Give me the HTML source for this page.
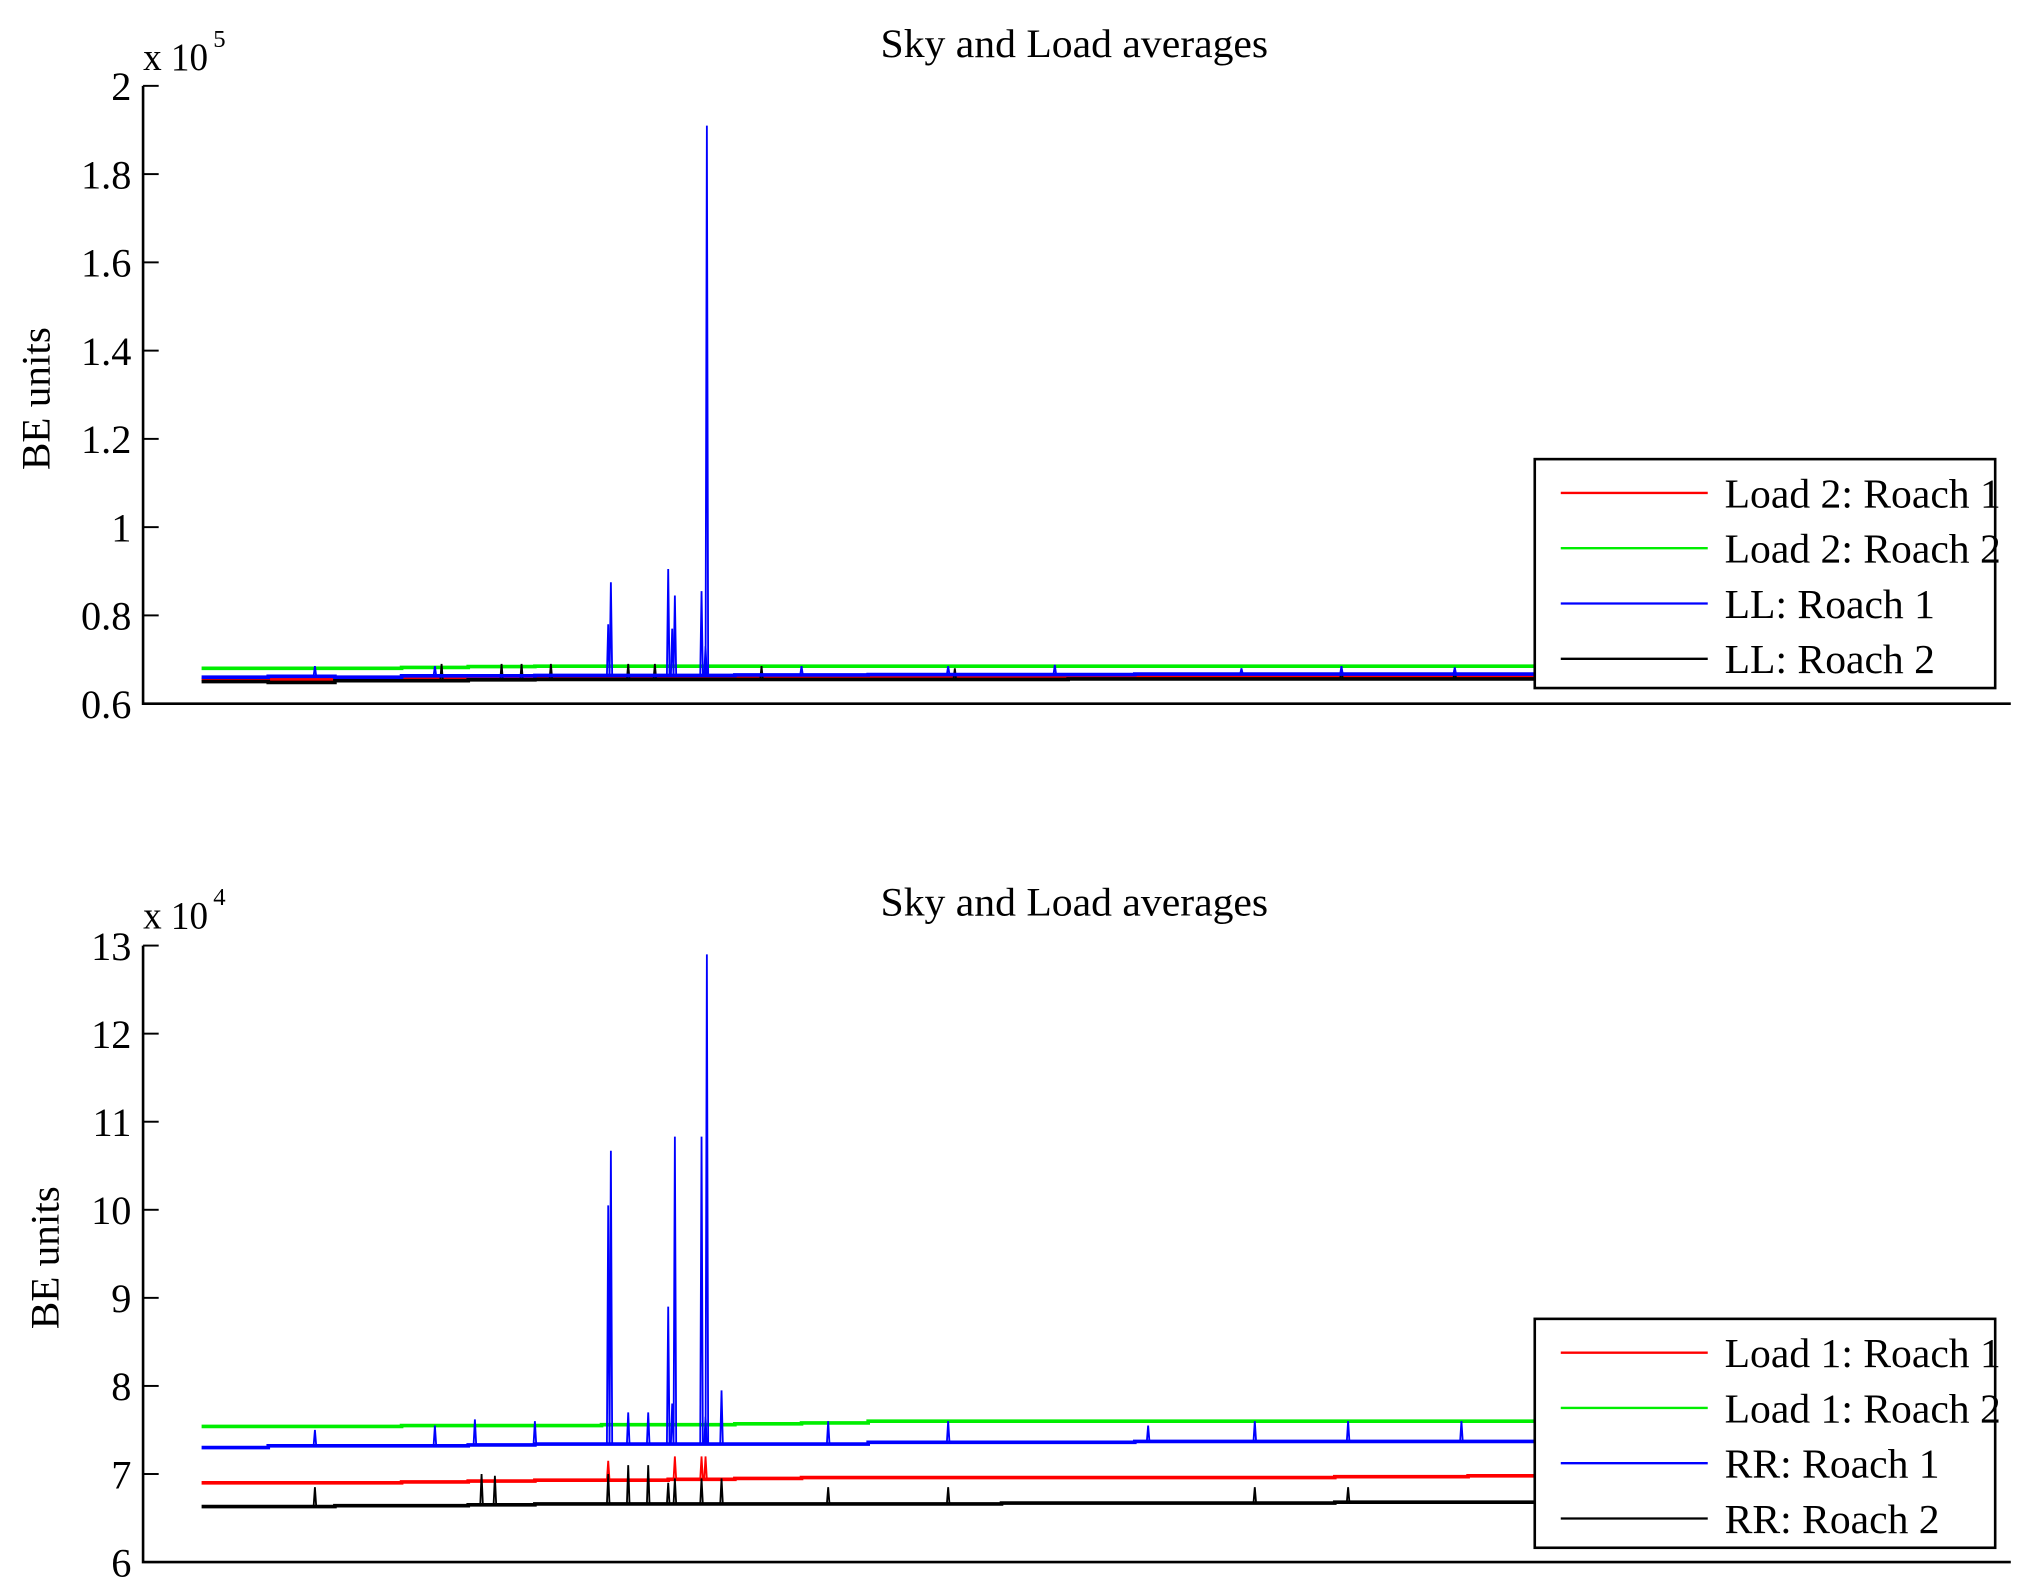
<!DOCTYPE html>
<html><head><meta charset="utf-8"><style>
html,body{margin:0;padding:0;background:#fff;}
svg{display:block;font-family:"Liberation Serif",serif;}
</style></head><body>
<svg id="fig" width="2029" height="1592" viewBox="0 0 1560 1224" xmlns="http://www.w3.org/2000/svg">
<rect width="1560" height="1224" fill="#fff"/>
<g id="p1"></g>
<g id="p2"></g>
</svg>
<script>
// ---- Top panel data (x10^5) ----
const topTicks = [0.6,0.8,1,1.2,1.4,1.6,1.8,2];
const topTickLabels = ["0.6","0.8","1","1.2","1.4","1.6","1.8","2"];
const topLabels = ["Load 2: Roach 1","Load 2: Roach 2","LL: Roach 1","LL: Roach 2"];
const topRed   = [0.655,0.655,0.656,0.657,0.658,0.659,0.66,0.66,0.66,0.66,0.66,0.66,0.66,0.66,0.66,0.661,0.661,0.661,0.661,0.661,0.661];
const topGreen = [0.68,0.68,0.68,0.682,0.684,0.685,0.685,0.685,0.685,0.685,0.685,0.685,0.685,0.685,0.685,0.685,0.685,0.685,0.685,0.685,0.685];
const topBlue  = [0.66,0.662,0.66,0.663,0.663,0.664,0.664,0.664,0.665,0.665,0.666,0.666,0.666,0.666,0.667,0.667,0.667,0.667,0.667,0.667,0.667];
const topBlack = [0.65,0.648,0.652,0.652,0.654,0.655,0.655,0.655,0.655,0.655,0.655,0.655,0.655,0.656,0.656,0.656,0.656,0.656,0.656,0.656,0.656];
const topBlueSpikePos = [305,307,350,353,355,375,378,379,85,175,450,560,640,780,855,940];
const topBlueSpikeVal = [0.78,0.875,0.905,0.77,0.845,0.855,0.73,1.91,0.685,0.685,0.685,0.685,0.688,0.68,0.685,0.682];
const topBlackSpikePos = [180,225,240,262,320,340,420,565,855,940];
const topBlackSpikeVal = [0.69,0.69,0.69,0.69,0.69,0.69,0.685,0.68,0.68,0.678];

// ---- Bottom panel data (x10^4) ----
const botTicks = [6,7,8,9,10,11,12,13];
const botTickLabels = ["6","7","8","9","10","11","12","13"];
const botLabels = ["Load 1: Roach 1","Load 1: Roach 2","RR: Roach 1","RR: Roach 2"];
const botRed   = [6.9,6.9,6.9,6.91,6.92,6.93,6.93,6.94,6.95,6.96,6.96,6.96,6.96,6.96,6.96,6.96,6.96,6.97,6.97,6.98,6.98];
const botGreen = [7.54,7.54,7.54,7.55,7.55,7.55,7.56,7.56,7.57,7.58,7.6,7.6,7.6,7.6,7.6,7.6,7.6,7.6,7.6,7.6,7.6];
const botBlue  = [7.3,7.32,7.32,7.32,7.33,7.34,7.34,7.34,7.34,7.34,7.36,7.36,7.36,7.36,7.37,7.37,7.37,7.37,7.37,7.37,7.37];
const botBlack = [6.63,6.63,6.64,6.64,6.65,6.66,6.66,6.66,6.66,6.66,6.66,6.66,6.67,6.67,6.67,6.67,6.67,6.68,6.68,6.68,6.68];
const botBlueSpikePos = [305,307,320,335,350,353,355,375,378,379,390,85,175,205,250,470,560,710,790,860,945];
const botBlueSpikeVal = [10.05,10.67,7.7,7.7,8.9,7.8,10.83,10.83,7.65,12.9,7.95,7.5,7.55,7.62,7.6,7.6,7.6,7.55,7.6,7.6,7.6];
const botBlackSpikePos = [305,320,335,350,355,375,390,210,220,85,470,560,790,860];
const botBlackSpikeVal = [7.0,7.1,7.1,6.9,6.95,6.95,6.95,7.0,6.98,6.85,6.85,6.85,6.85,6.85];
const botRedSpikePos = [305,355,375,378];
const botRedSpikeVal = [7.15,7.2,7.2,7.2];

const NS="http://www.w3.org/2000/svg";
function mk(tag,attrs,parent){const e=document.createElementNS(NS,tag);for(const k in attrs)e.setAttribute(k,attrs[k]);parent.appendChild(e);return e;}
const X0=110,X1=1546;
function xs(t){return 155+t*1.025;}

function panel(g,cfg){
  const ys=v=>cfg.yb-(v-cfg.vmin)/(cfg.vmax-cfg.vmin)*(cfg.yb-cfg.yt);
  const t=mk('text',{x:826,y:cfg.titleY,'text-anchor':'middle','font-size':31,textLength:298,lengthAdjust:'spacingAndGlyphs'},g);t.textContent='Sky and Load averages';
  
  
  const ex=mk('text',{x:110,y:cfg.titleY+10,'font-size':30,textLength:50,lengthAdjust:'spacingAndGlyphs'},g);ex.textContent='x 10';
  
  
  const sp=mk('text',{x:164,y:cfg.titleY-8,'font-size':19},g);sp.textContent=cfg.exp;
  
  
  const yl=mk('text',{x:0,y:0,'text-anchor':'middle','font-size':31,textLength:110,lengthAdjust:'spacingAndGlyphs',transform:`translate(${cfg.ylx},${(cfg.yt+cfg.yb)/2+3}) rotate(-90)`},g);yl.textContent='BE units';
  
  
  const cols=['#ff0000','#00ee00','#0000ff','#000000'];
  const order=[1,0,3,2];
  order.forEach(si=>{
    const arr=cfg.series[si];
    let d='';
    arr.forEach((v,i)=>{const x0=xs(i*50),x1=xs(Math.min(1000,(i+1)*50));d+=(i===0?'M':'L')+x0+','+ys(v)+'L'+x1+','+ys(v);});
    const p=mk('path',{d:d,fill:'none',stroke:cols[si],'stroke-width':2.8},g);
    
    
    const sk=cfg.spikes[si];
    if(sk){
      sk[0].forEach((pos,k)=>{
        const base=arr[Math.min(arr.length-1,Math.floor(pos/50))];
        const x=xs(pos);
        const s=mk('path',{d:`M${x-1},${ys(base)}L${x},${ys(sk[1][k])}L${x+1},${ys(base)}`,fill:'none',stroke:cols[si],'stroke-width':1.4},g);
        
        
      });
    }
  });
  const ax=mk('path',{d:`M${X0},${cfg.yt}L${X0},${cfg.yb}L${X1},${cfg.yb}`,fill:'none',stroke:'#000','stroke-width':2},g);
  
  
  cfg.ticks.forEach((v,i)=>{
    const y=ys(v);
    const tk=mk('line',{x1:X0,x2:X0+12,y1:y,y2:y,stroke:'#000','stroke-width':1.5},g);
    
    
    const tl=mk('text',{x:101,y:y+11,'text-anchor':'end','font-size':31},g);tl.textContent=cfg.tickLabels[i];
    
    
  });
  const lg=mk('g',{},g);
  
  
  mk('rect',{x:1180,y:cfg.legY,width:354,height:176,fill:'#fff',stroke:'#000','stroke-width':2},lg);
  cfg.labels.forEach((lab,i)=>{
    const y=cfg.legY+26+i*42.5;
    const e=mk('g',{},lg);
    
    
    mk('line',{x1:1200,x2:1313,y1:y,y2:y,stroke:cols[i],'stroke-width':1.8},e);
    const tx=mk('text',{x:1326,y:y+11,'font-size':32},e);tx.textContent=lab;
  });
}
panel(document.getElementById('p1'),{yt:66,yb:541,vmin:0.6,vmax:2,titleY:44,exp:'5',ylx:38,ticks:topTicks,tickLabels:topTickLabels,labels:topLabels,
  series:[topRed,topGreen,topBlue,topBlack],spikes:[null,null,[topBlueSpikePos,topBlueSpikeVal],[topBlackSpikePos,topBlackSpikeVal]],legY:353});
panel(document.getElementById('p2'),{yt:727,yb:1201,vmin:6,vmax:13,titleY:704,exp:'4',ylx:45,ticks:botTicks,tickLabels:botTickLabels,labels:botLabels,
  series:[botRed,botGreen,botBlue,botBlack],spikes:[[botRedSpikePos,botRedSpikeVal],null,[botBlueSpikePos,botBlueSpikeVal],[botBlackSpikePos,botBlackSpikeVal]],legY:1014});
</script>
</body></html>
